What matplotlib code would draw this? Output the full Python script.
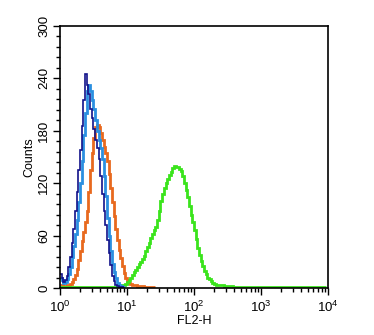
import numpy as np
import matplotlib
matplotlib.use("Agg")
import matplotlib.pyplot as plt
from matplotlib.ticker import MultipleLocator, LogLocator, NullFormatter

plt.rcParams['font.family'] = ['Liberation Sans', 'DejaVu Sans']

# bin width in decades, every histogram starts at 10^0
bin_w = 0.025

navy_counts = [16, 12, 7, 9, 14, 24, 36, 52, 68, 88, 110, 135, 158, 185, 215,
               245, 232, 222, 205, 195, 182, 170, 160, 148, 128, 108, 88, 72,
               55, 40, 26, 14, 8, 4, 2, 1, 1, 1]
blue_counts = [12, 9, 6, 7, 10, 16, 24, 35, 48, 62, 78, 98, 120, 145, 175, 200,
               225, 232, 226, 215, 205, 192, 180, 170, 160, 148, 128, 105, 80,
               60, 42, 28, 18, 11, 6, 4, 2, 1, 1]
orange_counts = [4, 3, 2, 2, 3, 4, 5, 7, 10, 15, 22, 32, 42, 54, 64, 75, 88,
                 110, 135, 155, 172, 184, 187, 184, 178, 170, 162, 155, 145,
                 130, 115, 98, 82, 68, 55, 44, 34, 25, 17, 11, 8, 6, 5, 4, 3,
                 3, 2, 2, 2, 2, 1, 1, 1, 1, 1, 1, 1]
green_counts = [1, 1, 1, 1, 1, 1, 1, 1, 1, 1, 1, 1, 1, 1, 1, 1, 1,
                1, 1, 1, 1, 1, 1, 1, 1, 1, 1, 1, 1, 1, 1, 1, 1, 1,
                1, 2, 2, 3, 4, 5, 7, 9, 12, 15, 18, 21, 24, 27, 30, 33, 37,
                42, 47, 52, 57, 62, 66, 70, 78, 88, 100, 108, 115, 120, 125,
                129, 133, 137, 140, 138, 139, 136, 134, 128, 120, 112, 104,
                94, 84, 75, 66, 56, 46, 38, 31, 25, 20, 16, 12, 10, 8, 6, 5,
                4, 4, 3, 3, 3, 2, 2, 2, 2, 2,
                1, 1, 1, 1, 1, 1, 1, 1, 1, 1, 1, 1, 1, 1,
                1, 1, 1, 1, 1, 1, 1, 1, 1, 1, 1, 1, 1, 1,
                1, 1, 1, 1, 1, 1, 1, 1, 1, 1, 1, 1, 1, 1,
                1, 1, 1, 1, 1, 1, 1, 1, 1, 1, 1, 1, 1, 1]

series = [
    (orange_counts, '#e8691e', 2.0),
    (green_counts, '#3ae41c', 2.0),
    (blue_counts, '#2a8fe0', 2.0),
    (navy_counts, '#12128a', 1.2),
]

fig = plt.figure(figsize=(3.74, 3.35), dpi=100)
ax = fig.add_axes([0.1604, 0.1403, 0.7166, 0.7821])

for counts, color, lw in series:
    edges = 10 ** (np.arange(len(counts) + 1) * bin_w)
    ax.stairs(counts, edges, color=color, linewidth=lw, baseline=None)

ax.set_xscale('log')
ax.set_xlim(1, 1e4)
ax.set_ylim(0, 300)

ax.yaxis.set_major_locator(MultipleLocator(60))
ax.yaxis.set_minor_locator(MultipleLocator(12))
ax.xaxis.set_major_locator(LogLocator(base=10, numticks=10))
ax.xaxis.set_minor_locator(LogLocator(base=10, subs=np.arange(2, 10), numticks=20))
ax.xaxis.set_minor_formatter(NullFormatter())

ax.tick_params(axis='both', which='major', direction='out', length=5, width=1,
               labelsize=9.5, color='black')
ax.tick_params(axis='both', which='minor', direction='out', length=3, width=1)
ax.tick_params(axis='y', labelrotation=90, pad=2)
for lab in ax.get_yticklabels():
    lab.set_va('center')

for sp in ax.spines.values():
    sp.set_linewidth(1.2)

ax.set_ylabel('Counts', fontsize=9, labelpad=2)
ax.set_xlabel('FL2-H', fontsize=9, labelpad=0)

fig.savefig('out.png', dpi=100)
